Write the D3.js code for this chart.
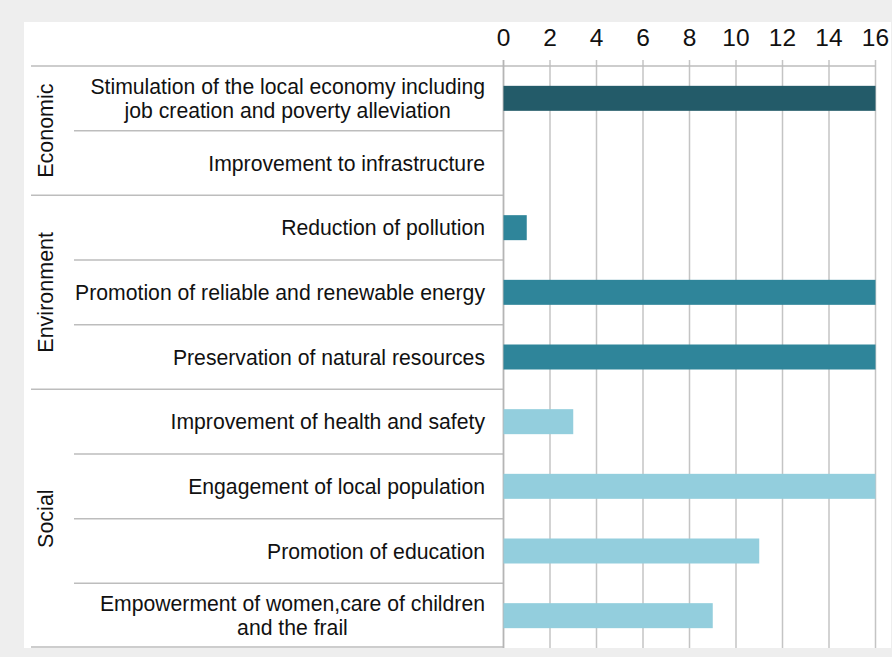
<!DOCTYPE html>
<html>
<head>
<meta charset="utf-8">
<script src="https://cdn.jsdelivr.net/npm/d3@7"></script>
<style>
  body { margin: 0; background: #eeeeee; }
  svg { display: block; font-family: "Liberation Sans", Arial, sans-serif; }
</style>
</head>
<body>
<svg id="chart" width="892" height="657"></svg>
<script>
// Data
var categories = [
  ["Stimulation of the local economy including", "job creation and poverty alleviation"],
  ["Improvement to infrastructure"],
  ["Reduction of pollution"],
  ["Promotion of reliable and renewable energy"],
  ["Preservation of natural resources"],
  ["Improvement of health and safety"],
  ["Engagement of local population"],
  ["Promotion of education"],
  ["Empowerment of women,care of children", "and the frail"]
];
var groupOf = ["Economic", "Economic", "Environment", "Environment", "Environment",
               "Social", "Social", "Social", "Social"];
var values = [16, 0, 1, 16, 16, 3, 16, 11, 9];
var groupNames = ["Economic", "Environment", "Social"];
var groupColors = ["#235b69", "#2f859a", "#93cedd"];
var tickValues = [0, 2, 4, 6, 8, 10, 12, 14, 16];

const svg = d3.select("#chart");
const W = 892, H = 657;

// panel
svg.append("rect").attr("width", W).attr("height", H).attr("fill", "#eeeeee");
svg.append("rect").attr("x", 24).attr("y", 22).attr("width", 867).attr("height", 626)
  .attr("fill", "#ffffff");

const plotTop = 66, plotBottom = 648;
const idx = d3.range(categories.length);

const x = d3.scaleLinear().domain([0, 16]).range([503.5, 875.5]);
const y = d3.scaleBand().domain(idx).range([plotTop, plotBottom]).padding(0);
const color = d3.scaleOrdinal().domain(groupNames).range(groupColors);

// gridlines + tick labels
const grid = svg.append("g");
grid.selectAll("line")
  .data(tickValues)
  .enter()
  .append("line")
  .attr("x1", d => x(d)).attr("x2", d => x(d))
  .attr("y1", 60).attr("y2", plotBottom)
  .attr("stroke", "#c4c4c4")
  .attr("stroke-width", 1.5);

grid.selectAll("text")
  .data(tickValues)
  .enter()
  .append("text")
  .attr("x", d => x(d))
  .attr("y", 46)
  .attr("text-anchor", "middle")
  .style("font-size", "24.5px")
  .attr("fill", "#111")
  .text(d => d);

// top line across everything
svg.append("line")
  .attr("x1", 31).attr("x2", x(16))
  .attr("y1", plotTop).attr("y2", plotTop)
  .attr("stroke", "#bdbdbd").attr("stroke-width", 1.5);

// row separators (left table only)
idx.slice(1).forEach(function(i) {
  var newGroup = groupOf[i] !== groupOf[i - 1];
  svg.append("line")
    .attr("x1", newGroup ? 31 : 74).attr("x2", x(0))
    .attr("y1", y(i)).attr("y2", y(i))
    .attr("stroke", "#bdbdbd").attr("stroke-width", 1.5);
});
svg.append("line")
  .attr("x1", 31).attr("x2", x(0))
  .attr("y1", plotBottom - 1).attr("y2", plotBottom - 1)
  .attr("stroke", "#bdbdbd").attr("stroke-width", 1.5);

// axis line
svg.append("line")
  .attr("x1", x(0)).attr("x2", x(0))
  .attr("y1", 60).attr("y2", plotBottom)
  .attr("stroke", "#b5b5b5").attr("stroke-width", 1.5);

// bars
const barH = 25;
svg.append("g")
  .selectAll("rect")
  .data(idx)
  .enter()
  .append("rect")
  .attr("x", x(0))
  .attr("y", i => y(i) + (y.bandwidth() - barH) / 2)
  .attr("width", i => x(values[i]) - x(0))
  .attr("height", barH)
  .attr("fill", i => color(groupOf[i]));

// category labels: block right aligned, lines centred within the block
const labelRight = 485;
const labels = svg.append("g");
idx.forEach(function(i) {
  var lines = categories[i];
  var cy = y(i) + y.bandwidth() / 2;
  var t = labels.append("text")
    .attr("text-anchor", "middle")
    .style("font-size", "21.2px")
    .attr("fill", "#111");
  var spans = lines.map(function(l, k) {
    return t.append("tspan")
      .attr("y", cy + 7.5 + (k - (lines.length - 1) / 2) * 23.5)
      .text(l);
  });
  var maxW = d3.max(spans, s => s.node().getComputedTextLength());
  spans.forEach(s => s.attr("x", labelRight - maxW / 2));
});

// group labels
groupNames.forEach(function(g) {
  var members = idx.filter(i => groupOf[i] === g);
  var y0 = y(members[0]);
  var y1 = y(members[members.length - 1]) + y.bandwidth();
  var cy = (y0 + y1) / 2;
  svg.append("text")
    .attr("transform", `translate(52.5, ${cy}) rotate(-90)`)
    .attr("text-anchor", "middle")
    .style("font-size", "21.5px")
    .attr("fill", "#111")
    .text(g);
});
</script>
</body>
</html>
